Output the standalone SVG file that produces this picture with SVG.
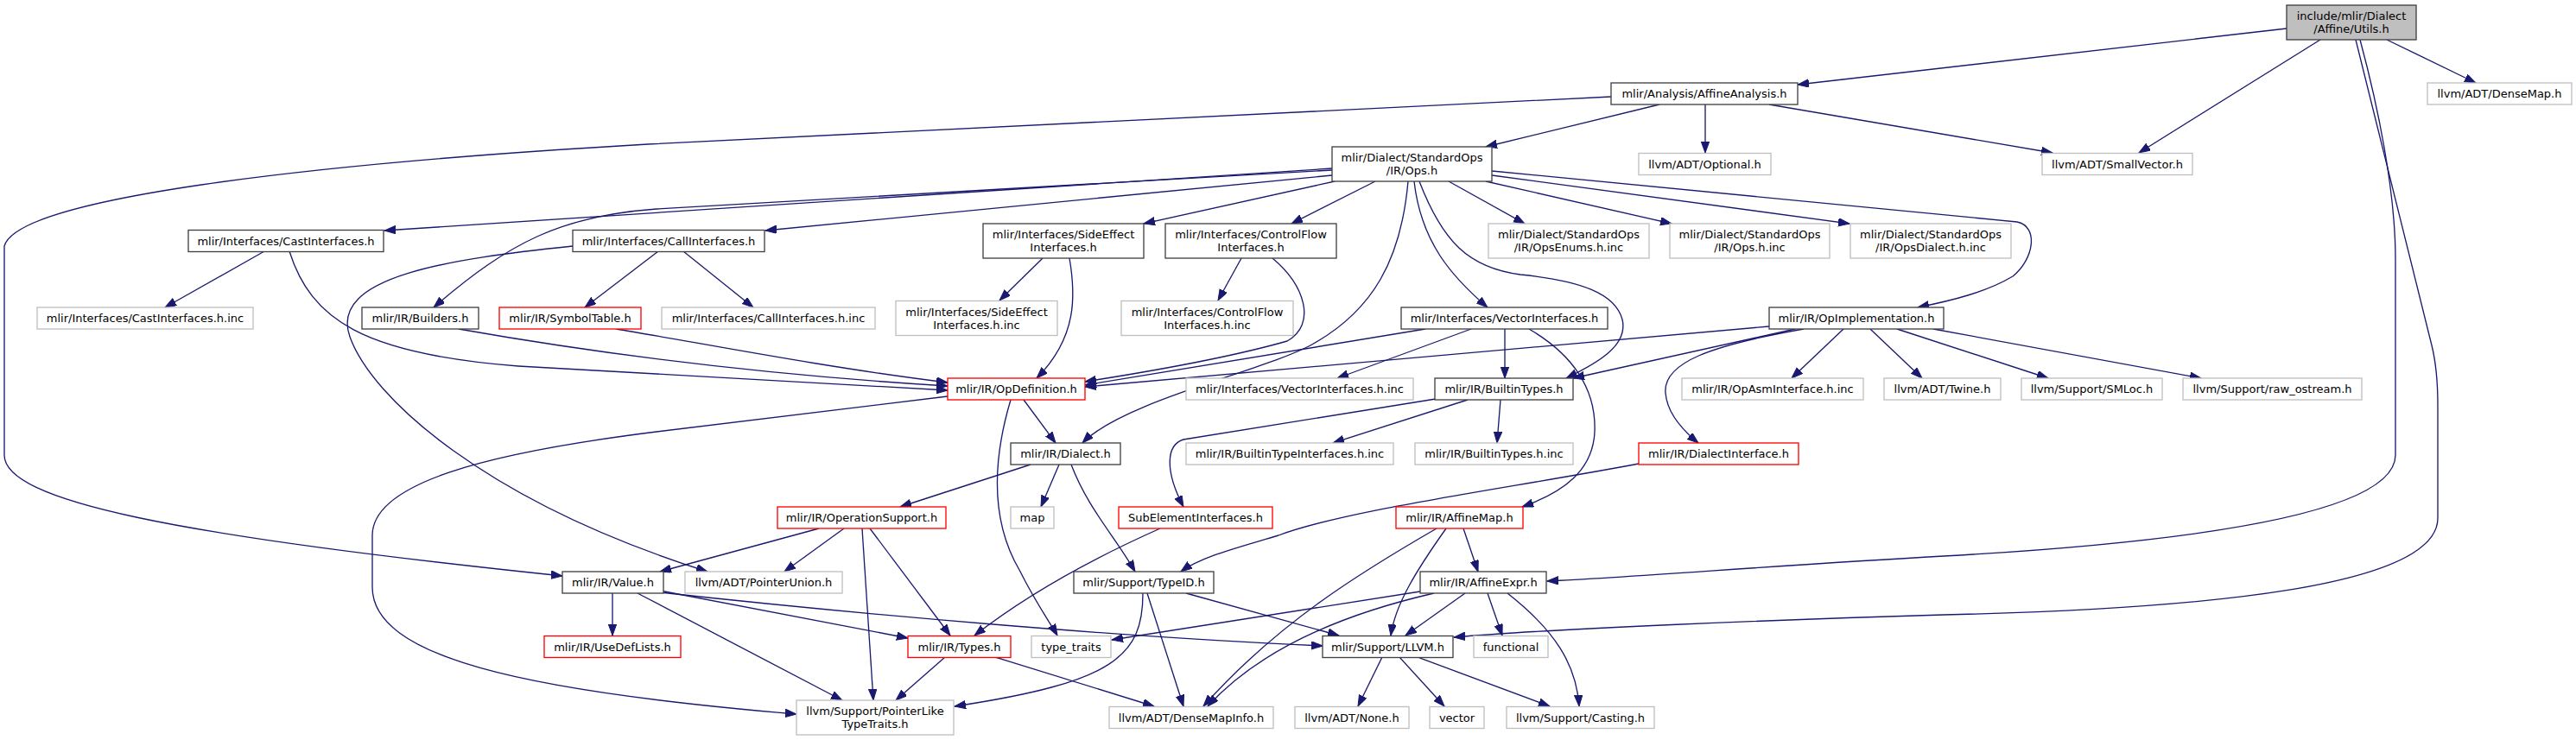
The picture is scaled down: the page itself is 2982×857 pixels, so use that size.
<svg xmlns="http://www.w3.org/2000/svg" width="2982" height="857" viewBox="0 0 2982 857">
<defs>
<marker id="ah" markerUnits="userSpaceOnUse" markerWidth="14" markerHeight="10" refX="13" refY="4.7" orient="auto"><path d="M0,0 L13,4.7 L0,9.4 z" fill="#191970" stroke="#191970" stroke-width="1"/></marker>
<style>
rect{fill:#fff;stroke:#404040;stroke-width:1.33}
.g rect{stroke:#bfbfbf}
.r rect{stroke:#ff0000}
.root rect{fill:#bfbfbf}
text{font-family:"DejaVu Sans","Liberation Sans",sans-serif;font-size:13px;text-anchor:middle;fill:#000}
#edges path{fill:none;stroke:#191970;stroke-width:1.33;marker-end:url(#ah)}
</style>
</defs>
<rect x="0" y="0" width="2982" height="857" style="fill:#fff;stroke:none"/>
<g id="edges">
<path d="M2647,33 L2081,98"/>
<path d="M2686,46 L2476,177"/>
<path d="M2763,46 L2866,96"/>
<path d="M2732,46 C2752,120 2773,220 2773,300 L2773,527 C2773,600 2500,630 2250,644 C2050,655 1900,668 1791,673"/>
<path d="M2727,46 L2815,400 C2820,420 2822,440 2822,470 L2822,600 C2822,680 2550,705 2250,712 C2050,718 1800,728 1683,738"/>
<path d="M1921,121 L1720,170"/>
<path d="M1974,121 L1974,177"/>
<path d="M2048,121 L2376,177"/>
<path d="M1865,112 L750,167 C350,190 20,230 5,285 L5,527 C5,580 200,620 651,667"/>
<path d="M1542,195 L445,267"/>
<path d="M1542,197 L760,242 C650,250 590,280 502,356"/>
<path d="M1542,203 L886,267"/>
<path d="M1545,210 L1324,259"/>
<path d="M1592,210 L1495,259"/>
<path d="M1677,210 L1765,259"/>
<path d="M1720,210 L1935,259"/>
<path d="M1727,203 L2141,259"/>
<path d="M1727,198 L2335,257 C2360,262 2355,300 2330,320 C2300,338 2260,348 2220,356"/>
<path d="M1637,210 C1645,280 1680,320 1722,356"/>
<path d="M1630,210 C1622,300 1590,360 1517,400 C1460,430 1300,465 1253,513"/>
<path d="M1643,210 C1670,280 1700,310 1760,318 C1830,325 1870,340 1878,370 C1885,400 1850,420 1813,438"/>
<path d="M306,291 L191,356"/>
<path d="M335,291 C360,370 420,410 600,424 C800,436 1000,445 1097,452"/>
<path d="M531,381 C650,402 850,432 1097,447"/>
<path d="M713,381 C800,395 950,425 1097,443"/>
<path d="M762,291 L677,356"/>
<path d="M791,291 L872,356"/>
<path d="M663,285 C520,300 380,320 405,390 C430,460 560,580 819,662"/>
<path d="M1207,299 L1157,348"/>
<path d="M1238,299 C1245,340 1248,390 1200,438"/>
<path d="M1437,299 L1410,348"/>
<path d="M1473,299 C1510,330 1525,375 1490,395 C1420,415 1320,432 1256,442"/>
<path d="M1650,381 L1256,446"/>
<path d="M1703,381 L1548,438"/>
<path d="M1742,381 L1742,438"/>
<path d="M1770,381 C1820,410 1848,450 1846,500 C1844,545 1810,570 1762,587"/>
<path d="M2048,378 L1256,448"/>
<path d="M2078,381 L1821,438"/>
<path d="M2088,381 C1980,400 1925,420 1928,455 C1930,480 1950,500 1966,513"/>
<path d="M2134,381 L2074,438"/>
<path d="M2165,381 L2225,438"/>
<path d="M2196,381 L2371,438"/>
<path d="M2238,381 L2548,438"/>
<path d="M1185,463 L1222,513"/>
<path d="M1170,463 C1150,530 1145,600 1180,660 C1200,700 1215,720 1224,736"/>
<path d="M1097,459 L760,500 C560,525 431,560 431,620 L431,680 C431,760 600,800 922,827"/>
<path d="M1193,538 L1042,587"/>
<path d="M1226,538 L1205,587"/>
<path d="M1240,538 C1260,590 1290,620 1314,662"/>
<path d="M948,612 L764,662"/>
<path d="M977,612 L908,662"/>
<path d="M998,612 L1011,811"/>
<path d="M1007,612 L1100,736"/>
<path d="M1343,612 C1280,640 1200,680 1128,736"/>
<path d="M1662,462 L1370,509 C1350,515 1348,545 1370,587"/>
<path d="M1699,463 L1543,513"/>
<path d="M1737,463 L1733,513"/>
<path d="M1897,537 C1750,565 1560,590 1480,620 C1430,635 1390,645 1367,662"/>
<path d="M1694,612 L1711,662"/>
<path d="M1674,612 C1640,660 1615,700 1610,736"/>
<path d="M1663,612 C1580,660 1480,720 1393,818"/>
<path d="M1644,685 L1287,741"/>
<path d="M1660,687 C1560,710 1460,750 1398,818"/>
<path d="M1696,687 L1627,736"/>
<path d="M1722,687 L1739,736"/>
<path d="M1745,687 C1800,730 1825,770 1828,818"/>
<path d="M1323,687 C1323,760 1290,790 1105,818"/>
<path d="M1328,687 L1370,818"/>
<path d="M1373,687 L1550,736"/>
<path d="M709,687 L709,736"/>
<path d="M764,684 L1051,739"/>
<path d="M764,686 C1000,712 1300,738 1531,748"/>
<path d="M738,687 L975,811"/>
<path d="M1094,761 L1037,811"/>
<path d="M1152,761 L1336,818"/>
<path d="M1600,761 L1572,818"/>
<path d="M1620,761 L1672,818"/>
<path d="M1641,761 L1794,818"/>
</g>
<g id="n_utils" class="root"><rect x="2647" y="6" width="150" height="40"/><text x="2722" y="23">include/mlir/Dialect</text><text x="2722" y="38">/Affine/Utils.h</text></g>
<g id="n_affineanalysis"><rect x="1865" y="96" width="216" height="25"/><text x="1973" y="113">mlir/Analysis/AffineAnalysis.h</text></g>
<g id="n_densemap" class="g"><rect x="2810" y="96" width="167" height="25"/><text x="2893.5" y="113">llvm/ADT/DenseMap.h</text></g>
<g id="n_ops"><rect x="1542" y="170" width="185" height="40"/><text x="1634.5" y="187">mlir/Dialect/StandardOps</text><text x="1634.5" y="202">/IR/Ops.h</text></g>
<g id="n_optional" class="g"><rect x="1897" y="177.5" width="153" height="25"/><text x="1973.5" y="194.5">llvm/ADT/Optional.h</text></g>
<g id="n_smallvector" class="g"><rect x="2364" y="177.5" width="174" height="25"/><text x="2451" y="194.5">llvm/ADT/SmallVector.h</text></g>
<g id="n_castif"><rect x="218" y="266.5" width="226" height="25"/><text x="331" y="283.5">mlir/Interfaces/CastInterfaces.h</text></g>
<g id="n_callif"><rect x="663" y="266.5" width="222" height="25"/><text x="774" y="283.5">mlir/Interfaces/CallInterfaces.h</text></g>
<g id="n_sideeffect"><rect x="1138" y="259" width="186" height="40"/><text x="1231" y="276">mlir/Interfaces/SideEffect</text><text x="1231" y="291">Interfaces.h</text></g>
<g id="n_controlflow"><rect x="1349" y="259" width="198" height="40"/><text x="1448" y="276">mlir/Interfaces/ControlFlow</text><text x="1448" y="291">Interfaces.h</text></g>
<g id="n_opsenums" class="g"><rect x="1723" y="259" width="186" height="40"/><text x="1816" y="276">mlir/Dialect/StandardOps</text><text x="1816" y="291">/IR/OpsEnums.h.inc</text></g>
<g id="n_opsinc" class="g"><rect x="1933" y="259" width="185" height="40"/><text x="2025.5" y="276">mlir/Dialect/StandardOps</text><text x="2025.5" y="291">/IR/Ops.h.inc</text></g>
<g id="n_opsdialect" class="g"><rect x="2142" y="259" width="186" height="40"/><text x="2235" y="276">mlir/Dialect/StandardOps</text><text x="2235" y="291">/IR/OpsDialect.h.inc</text></g>
<g id="n_castinc" class="g"><rect x="43" y="356" width="250" height="25"/><text x="168" y="373">mlir/Interfaces/CastInterfaces.h.inc</text></g>
<g id="n_builders"><rect x="419" y="356" width="135" height="25"/><text x="486.5" y="373">mlir/IR/Builders.h</text></g>
<g id="n_symboltable" class="r"><rect x="578" y="356" width="164" height="25"/><text x="660" y="373">mlir/IR/SymbolTable.h</text></g>
<g id="n_callinc" class="g"><rect x="766" y="356" width="247" height="25"/><text x="889.5" y="373">mlir/Interfaces/CallInterfaces.h.inc</text></g>
<g id="n_sideinc" class="g"><rect x="1037" y="348.5" width="187" height="40"/><text x="1130.5" y="365.5">mlir/Interfaces/SideEffect</text><text x="1130.5" y="380.5">Interfaces.h.inc</text></g>
<g id="n_ctrlinc" class="g"><rect x="1298" y="348.5" width="199" height="40"/><text x="1397.5" y="365.5">mlir/Interfaces/ControlFlow</text><text x="1397.5" y="380.5">Interfaces.h.inc</text></g>
<g id="n_vectorif"><rect x="1622" y="356" width="239" height="25"/><text x="1741.5" y="373">mlir/Interfaces/VectorInterfaces.h</text></g>
<g id="n_opimpl"><rect x="2048" y="356" width="202" height="25"/><text x="2149" y="373">mlir/IR/OpImplementation.h</text></g>
<g id="n_opdef" class="r"><rect x="1097" y="438" width="159" height="25"/><text x="1176.5" y="455">mlir/IR/OpDefinition.h</text></g>
<g id="n_vecinc" class="g"><rect x="1373" y="438" width="263" height="25"/><text x="1504.5" y="455">mlir/Interfaces/VectorInterfaces.h.inc</text></g>
<g id="n_builtintypes"><rect x="1661" y="438" width="160" height="25"/><text x="1741" y="455">mlir/IR/BuiltinTypes.h</text></g>
<g id="n_opasm" class="g"><rect x="1947" y="438" width="210" height="25"/><text x="2052" y="455">mlir/IR/OpAsmInterface.h.inc</text></g>
<g id="n_twine" class="g"><rect x="2181" y="438" width="135" height="25"/><text x="2248.5" y="455">llvm/ADT/Twine.h</text></g>
<g id="n_smloc" class="g"><rect x="2340" y="438" width="163" height="25"/><text x="2421.5" y="455">llvm/Support/SMLoc.h</text></g>
<g id="n_rawostream" class="g"><rect x="2527" y="438" width="207" height="25"/><text x="2630.5" y="455">llvm/Support/raw_ostream.h</text></g>
<g id="n_dialect"><rect x="1170" y="513" width="127" height="25"/><text x="1233.5" y="530">mlir/IR/Dialect.h</text></g>
<g id="n_btiinc" class="g"><rect x="1373" y="513" width="240" height="25"/><text x="1493" y="530">mlir/IR/BuiltinTypeInterfaces.h.inc</text></g>
<g id="n_btinc" class="g"><rect x="1638" y="513" width="183" height="25"/><text x="1729.5" y="530">mlir/IR/BuiltinTypes.h.inc</text></g>
<g id="n_dialectif" class="r"><rect x="1897" y="513" width="185" height="25"/><text x="1989.5" y="530">mlir/IR/DialectInterface.h</text></g>
<g id="n_opsupport" class="r"><rect x="900" y="587" width="195" height="25"/><text x="997.5" y="604">mlir/IR/OperationSupport.h</text></g>
<g id="n_map" class="g"><rect x="1170" y="587" width="50" height="25"/><text x="1195" y="604">map</text></g>
<g id="n_subelem" class="r"><rect x="1295" y="587" width="178" height="25"/><text x="1384" y="604">SubElementInterfaces.h</text></g>
<g id="n_affinemap" class="r"><rect x="1616" y="587" width="147" height="25"/><text x="1689.5" y="604">mlir/IR/AffineMap.h</text></g>
<g id="n_value"><rect x="651" y="662" width="117" height="25"/><text x="709.5" y="679">mlir/IR/Value.h</text></g>
<g id="n_pointerunion" class="g"><rect x="793" y="662" width="182" height="25"/><text x="884" y="679">llvm/ADT/PointerUnion.h</text></g>
<g id="n_typeid"><rect x="1243" y="662" width="162" height="25"/><text x="1324" y="679">mlir/Support/TypeID.h</text></g>
<g id="n_affineexpr"><rect x="1644" y="662" width="146" height="25"/><text x="1717" y="679">mlir/IR/AffineExpr.h</text></g>
<g id="n_usedef" class="r"><rect x="630" y="736.5" width="158" height="25"/><text x="709" y="753.5">mlir/IR/UseDefLists.h</text></g>
<g id="n_types" class="r"><rect x="1051" y="736.5" width="119" height="25"/><text x="1110.5" y="753.5">mlir/IR/Types.h</text></g>
<g id="n_typetraits" class="g"><rect x="1194" y="736.5" width="92" height="25"/><text x="1240" y="753.5">type_traits</text></g>
<g id="n_llvm" ><rect x="1531" y="736.5" width="151" height="25"/><text x="1606.5" y="753.5">mlir/Support/LLVM.h</text></g>
<g id="n_functional" class="g"><rect x="1706" y="736.5" width="86" height="25"/><text x="1749" y="753.5">functional</text></g>
<g id="n_pointerlike" class="g"><rect x="922" y="811" width="182" height="40"/><text x="1013" y="828">llvm/Support/PointerLike</text><text x="1013" y="843">TypeTraits.h</text></g>
<g id="n_densemapinfo" class="g"><rect x="1284" y="818.5" width="190" height="25"/><text x="1379" y="835.5">llvm/ADT/DenseMapInfo.h</text></g>
<g id="n_none" class="g"><rect x="1499" y="818.5" width="132" height="25"/><text x="1565" y="835.5">llvm/ADT/None.h</text></g>
<g id="n_vector" class="g"><rect x="1655" y="818.5" width="63" height="25"/><text x="1686.5" y="835.5">vector</text></g>
<g id="n_casting" class="g"><rect x="1744" y="818.5" width="171" height="25"/><text x="1829.5" y="835.5">llvm/Support/Casting.h</text></g>
</svg>
